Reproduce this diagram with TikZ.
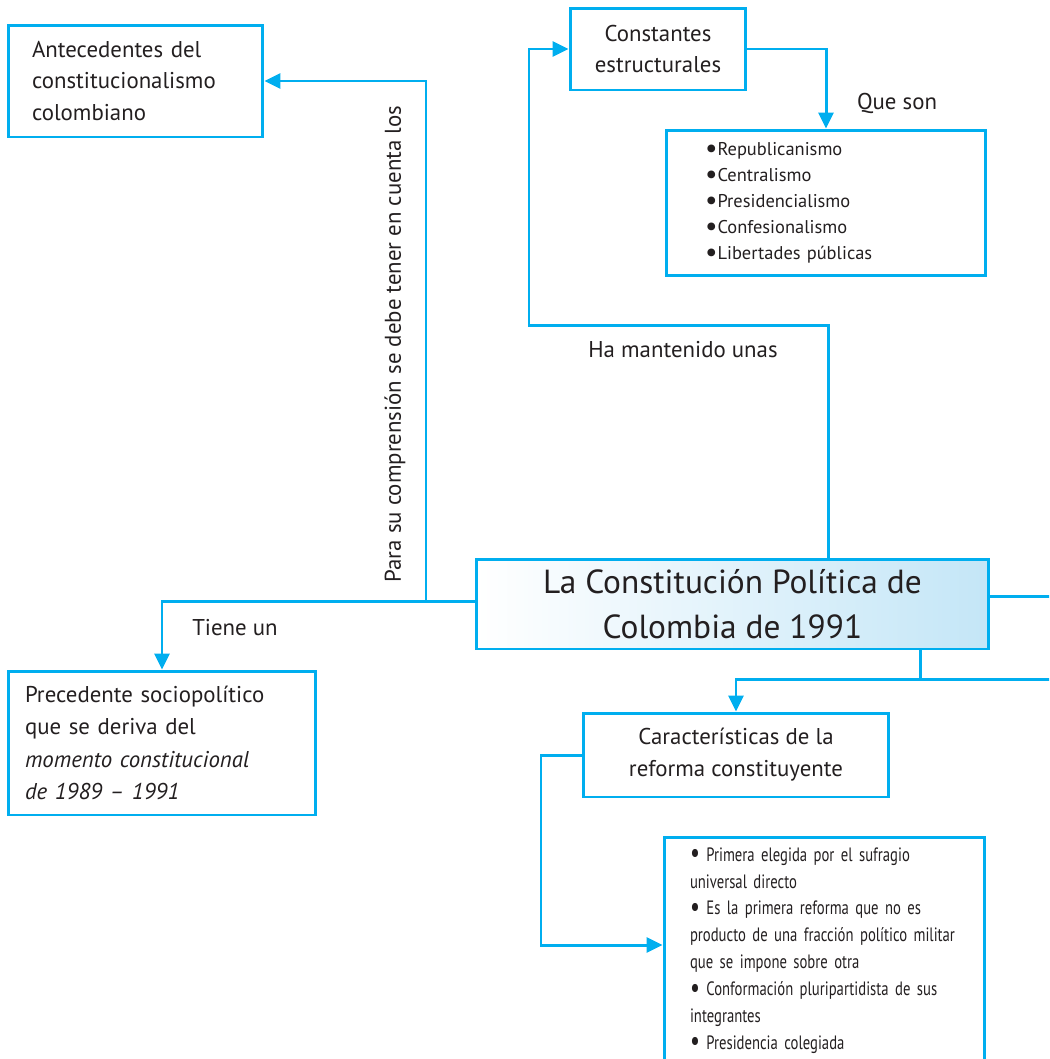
\documentclass[tikz,border=0pt]{standalone}
\usepackage{fontspec}
\setmainfont{PT Sans}
\newfontfamily\narrowfont[FakeStretch=0.76]{PT Sans}
\usetikzlibrary{arrows.meta}
\definecolor{mapblue}{HTML}{00AEEF}
\definecolor{mapink}{HTML}{231F20}
\definecolor{mapshade}{HTML}{C4E6F7}
\newcommand{\dotmark}{\raisebox{-0.15ex}{\scalebox{1.5}{\textbullet}}}
\tikzstyle{block} = [draw=mapblue, line width=1.7pt, inner sep=0pt, text=mapink]
\tikzstyle{link} = [draw=mapblue, line width=1.7pt]
\tikzstyle{linkarrow} = [link, -{Triangle[length=0.32cm,width=0.3cm]}]
\tikzstyle{linktext} = [text=mapink, font=\fontsize{13}{16}\selectfont]

\begin{document}
\begin{tikzpicture}[x=0.02cm,y=-0.02cm]
\useasboundingbox (0,0) rectangle (1049,1059);
\clip (0,0) rectangle (1049,1059);
\node[block, minimum width=5.1cm, minimum height=2.24cm, text width=4.14cm, align=left, font=\fontsize{13}{18.1}\selectfont] at (135.5,81) (antecedentes) {Antecedentes del\\constitucionalismo\\colombiano};
\node[block, minimum width=3.52cm, minimum height=1.64cm, align=center, font=\fontsize{13}{17.6}\selectfont] at (658,49) (constantes) {Constantes\\estructurales};
\node[block, minimum width=6.4cm, minimum height=2.92cm, text width=4.84cm, align=left, font=\fontsize{10.5}{14.8}\selectfont] at (826,203) (lista) {\dotmark Republicanismo\\\dotmark Centralismo\\\dotmark Presidencialismo\\\dotmark Confesionalismo\\\dotmark Libertades públicas};
\node[block, minimum width=10.26cm, minimum height=1.8cm, left color=white, right color=mapshade, align=center, font=\fontsize{19}{25.5}\selectfont] at (732.5,604) (constitucion) {La Constitución Política de\\Colombia de 1991};
\node[block, minimum width=6.16cm, minimum height=2.88cm, text width=5.48cm, align=left, font=\fontsize{13}{18.5}\selectfont] at (162,743) (precedente) {Precedente sociopolítico\\que se deriva del\\\textit{momento constitucional}\\\textit{de 1989 – 1991}};
\node[block, minimum width=6.1cm, minimum height=1.68cm, align=center, font=\fontsize{13}{18.1}\selectfont] at (736,755) (caracteristicas) {Características de la\\reforma constituyente};
\node[block, anchor=north, minimum width=6.42cm, text width=5.38cm, inner ysep=0.2cm, align=left, font=\narrowfont\fontsize{11}{15.3}\selectfont] at (824.5,836) (rasgos) {\dotmark\ Primera elegida por el sufragio\\universal directo\\\dotmark\ Es la primera reforma que no es\\producto de una fracción político militar\\que se impone sobre otra\\\dotmark\ Conformación pluripartidista de sus\\integrantes\\\dotmark\ Presidencia colegiada};
\node[linktext] at (897,103) (queson) {Que son};
\node[linktext] at (683,350) (mantenido) {Ha mantenido unas};
\node[linktext] at (235,628) (tiene) {Tiene un};
\node[linktext, rotate=90] at (395,344) (comprension) {Para su comprensión se debe tener en cuenta los};
\coordinate (upbend) at (828,325);
\coordinate (leftbend) at (529,325);
\coordinate (split) at (426,601);
\coordinate (rightA) at (1060,596);
\coordinate (rightB) at (1060,679);
\coordinate (junction) at (920,679);
\coordinate (downbend) at (541,945);
\draw[linkarrow] (constitucion.north -| upbend) -- (upbend) -- (leftbend) |- (constantes.west);
\draw[linkarrow] (constantes.east) -| (lista.north);
\draw[linkarrow] (constitucion.west |- split) -| (precedente.north);
\draw[linkarrow] (split) |- (antecedentes.east);
\draw[link] (constitucion.east |- rightA) -- (rightA);
\draw[link] (constitucion.south -| junction) -- (junction);
\draw[linkarrow] (rightB) -| (caracteristicas.north);
\draw[linkarrow] (caracteristicas.west) -| (downbend) -- (downbend -| rasgos.west);
\end{tikzpicture}
\end{document}
